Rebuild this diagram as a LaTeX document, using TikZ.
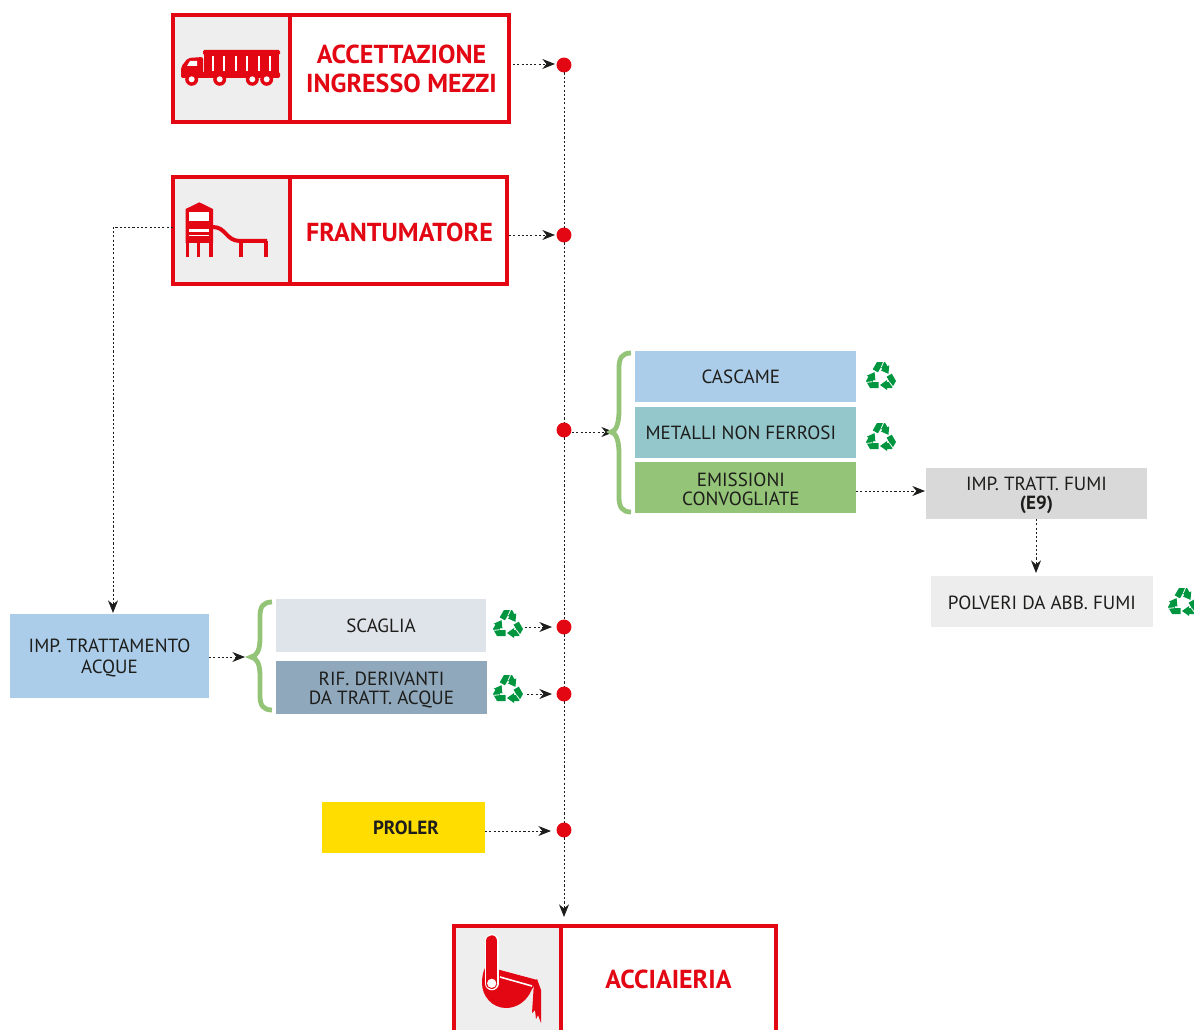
\documentclass[tikz,border=0pt]{standalone}
\usepackage{fontspec}
\setmainfont{PT Sans}
\usetikzlibrary{arrows.meta}
\definecolor{stepred}{HTML}{E30613}
\definecolor{iconbg}{HTML}{EEEEEE}
\definecolor{bluebox}{HTML}{ABCDE9}
\definecolor{tealbox}{HTML}{93C7CC}
\definecolor{greenbox}{HTML}{94C477}
\definecolor{fumebox}{HTML}{D9D9D9}
\definecolor{dustbox}{HTML}{EDEDED}
\definecolor{scalebox}{HTML}{DFE4EB}
\definecolor{wastebox}{HTML}{90A8BC}
\definecolor{prolerbox}{HTML}{FFDD00}
\definecolor{recyclegreen}{HTML}{009640}
\definecolor{textdark}{HTML}{1D1D1B}
\newcommand{\lowerline}{\rule{0pt}{13pt}}
\tikzset{
	cellsize/.style 2 args={minimum width=#1*.75pt, minimum height=#2*.75pt, inner sep=0pt, outer sep=0pt},
	iconcell/.style={draw=stepred, line width=2.5pt, fill=iconbg},
	titlecell/.style={draw=stepred, line width=2.5pt, fill=white, text=stepred, align=center, font=\fontsize{19.5pt}{21.7pt}\selectfont\bfseries},
	infobox/.style={text=textdark, align=center, font=\fontsize{14.3pt}{13.8pt}\selectfont},
	flowdot/.style={circle, fill=stepred, minimum size=11.2pt, inner sep=0pt, outer sep=0pt},
	flowline/.style={draw=textdark, line width=.7pt, dash pattern=on 1.6pt off 1.6pt},
	flowarrow/.style={flowline, -{Stealth[length=9.5pt, width=7.5pt]}},
	brace/.style={draw=greenbox, line width=3.6pt, line cap=butt},
	pics/recycle/.style={code={
		\foreach \ang in {0, 120, 240} {
			\fill[recyclegreen, rotate=\ang] (-8.28, -7.67) -- (-4.05, -15) -- (4.05, -15) -- (6.53, -10.7) -- (8.26, -11.7) -- (7.43, -3.13) -- (-.4, -6.7) -- (1.33, -7.7) -- (0, -10) -- (-3.08, -4.67) -- cycle;
			\draw[white, line width=.6pt, rotate=\ang] (.3, -10) -- (2.5, -15);
		}
	}},
}
\begin{document}
\begin{tikzpicture}[x=.75pt, y=-.75pt]
	\useasboundingbox (0, 0) rectangle (1194, 1030);
	\clip (0, 0) rectangle (1194, 1030);

	\node[iconcell, cellsize={117}{107}] (accIcon) at (231.5, 68.5) {};
	\node[titlecell, cellsize={219}{107}] (accTitle) at (399.5, 68.5) {\hspace*{3pt}ACCETTAZIONE\\\hspace*{3pt}INGRESSO MEZZI};
	\node[iconcell, cellsize={117}{107}] (franIcon) at (231.5, 230.5) {};
	\node[titlecell, cellsize={217}{107}] (franTitle) at (398.5, 230.5) {\rule{0pt}{17pt}\hspace*{1.5pt}FRANTUMATORE};
	\node[iconcell, cellsize={107}{107}] (steelIcon) at (507.5, 979.5) {};
	\node[titlecell, cellsize={215}{107}] (steelTitle) at (668.5, 979.5) {ACCIAIERIA};

	\node[infobox, fill=bluebox, cellsize={221}{51}] (cascame) at (745.5, 376.5) {\rule{0pt}{11pt}CASCAME\kern7pt};
	\node[infobox, fill=tealbox, cellsize={221}{51}] (metalli) at (745.5, 432.5) {\rule{0pt}{11pt}METALLI NON FERROSI\kern7pt};
	\node[infobox, fill=greenbox, cellsize={221}{51}] (emissioni) at (745.5, 487.5) {\lowerline EMISSIONI\kern7pt\\CONVOGLIATE\kern7pt};
	\node[infobox, fill=fumebox, cellsize={221}{51}] (fumi) at (1036.5, 493.5) {\lowerline IMP. TRATT. FUMI\\\textbf{(E9)}};
	\node[infobox, fill=dustbox, cellsize={222}{51}] (polveri) at (1042, 601.5) {\rule{0pt}{12pt}POLVERI DA ABB. FUMI};
	\node[infobox, fill=bluebox, cellsize={199}{84}] (acque) at (109.5, 656) {\lowerline IMP. TRATTAMENTO\\[2pt]ACQUE};
	\node[infobox, fill=scalebox, cellsize={210}{53}] (scaglia) at (381, 625.5) {SCAGLIA};
	\node[infobox, fill=wastebox, cellsize={211}{53}] (derivanti) at (381.5, 687.5) {\rule{0pt}{14pt}RIF. DERIVANTI\\DA TRATT. ACQUE};
	\node[infobox, fill=prolerbox, cellsize={163}{51}] (proler) at (403.5, 827.5) {\hspace*{3.7pt}\textbf{PROLER}};

	\pic at (881, 377) {recycle};
	\pic at (881, 438) {recycle};
	\pic at (1183, 603) {recycle};
	\pic at (508, 625) {recycle};
	\pic at (508, 690) {recycle};

	\node[flowdot] (dotA) at (564, 65) {};
	\node[flowdot] (dotB) at (564, 235) {};
	\node[flowdot] (dotC) at (564, 430) {};
	\node[flowdot] (dotD) at (564, 627) {};
	\node[flowdot] (dotE) at (564, 694) {};
	\node[flowdot] (dotF) at (564, 830) {};

	\coordinate (accOut) at (513, 64);
	\coordinate (accIn) at (555, 64);
	\coordinate (franOut) at (509, 235);
	\coordinate (franIn) at (555, 235);
	\coordinate (franLeft) at (173, 227);
	\coordinate (franCorner) at (113, 227);
	\coordinate (acqueIn) at (113, 613);
	\coordinate (dotCOut) at (572, 432);
	\coordinate (braceTipA) at (614, 432);
	\coordinate (acqueOut) at (209, 657);
	\coordinate (braceTipB) at (245, 657);
	\coordinate (steelIn) at (564, 917);
	\coordinate (fumiIn) at (925, 491);
	\coordinate (emisOut) at (856, 491);
	\coordinate (fumiOut) at (1036, 519);
	\coordinate (dustIn) at (1036, 573);
	\coordinate (recDOut) at (525, 627);
	\coordinate (dotDIn) at (552, 627);
	\coordinate (recEOut) at (527, 694);
	\coordinate (dotEIn) at (552, 694);
	\coordinate (prolerOut) at (485, 831);
	\coordinate (dotFIn) at (551, 831);

	\draw[flowarrow] (accOut) -- (accIn);
	\draw[flowarrow] (franOut) -- (franIn);
	\draw[flowarrow] (franLeft) -- (franCorner) -- (acqueIn);
	\draw[flowarrow] (dotCOut) -- (braceTipA);
	\draw[flowarrow] (acqueOut) -- (braceTipB);
	\draw[flowarrow] (emisOut) -- (fumiIn);
	\draw[flowarrow] (fumiOut) -- (dustIn);
	\draw[flowarrow] (recDOut) -- (dotDIn);
	\draw[flowarrow] (recEOut) -- (dotEIn);
	\draw[flowarrow] (prolerOut) -- (dotFIn);
	\draw[flowline] (dotA) -- (dotB);
	\draw[flowline] (dotB) -- (dotC);
	\draw[flowline] (dotC) -- (dotD);
	\draw[flowline] (dotD) -- (dotE);
	\draw[flowline] (dotE) -- (dotF);
	\draw[flowarrow] (dotF) -- (steelIn);

	\draw[brace] (631, 353) .. controls (622, 353) and (619, 358) .. (619, 368) -- (619, 410) .. controls (619, 424) and (616, 431) .. (611, 432) .. controls (616, 433) and (619, 440) .. (619, 454) -- (619, 497) .. controls (619, 507) and (622, 512) .. (631, 512);
	\draw[brace] (272, 602) .. controls (263, 602) and (260, 607) .. (260, 616) -- (260, 638) .. controls (260, 650) and (257, 656) .. (251, 657) .. controls (257, 658) and (260, 664) .. (260, 676) -- (260, 696) .. controls (260, 705) and (263, 710) .. (272, 710);

	% truck
	\fill[stepred, rounded corners=1pt] (203, 50) rectangle (280, 55);
	\fill[stepred] (204, 52) rectangle (279, 73);
	\fill[stepred, rounded corners=1.5pt] (181, 72) -- (181, 78) -- (280, 78) -- (280, 72) -- cycle;
	\fill[stepred, rounded corners=1.5pt] (181, 74) -- (181, 67) -- (188, 58) -- (203, 57) -- (203, 74) -- cycle;
	\fill[white] (187, 66) -- (190, 61) -- (197, 61) -- (197, 66) -- cycle;
	\foreach \sx in {212.7, 224.3, 235.7, 247.3, 259, 270}
		\fill[white] (\sx-1, 56) rectangle (\sx+1, 71);
	\foreach \wx in {191.7, 219.7, 252.3, 266.7} {
		\fill[stepred] (\wx, 79.3) circle[radius=6.5];
		\fill[white] (\wx, 79.3) circle[radius=3];
	}

	% slide
	\fill[stepred] (185.7, 209) -- (199.3, 202.3) -- (213, 209) -- (213, 243) -- (185.7, 243) -- cycle;
	\fill[white] (189.3, 211.7) rectangle (209, 221);
	\fill[white] (189.3, 229.3) rectangle (209, 232);
	\fill[white] (189.3, 235.3) rectangle (209, 236);
	\fill[stepred] (185.7, 243) rectangle (189.3, 257);
	\fill[stepred] (196.7, 243) rectangle (200.3, 257);
	\fill[stepred] (209, 243) rectangle (213, 257);
	\draw[stepred, line width=3pt] (213, 227) .. controls (226, 227) and (226, 241) .. (240, 241) -- (267, 241);
	\fill[stepred] (239, 241) rectangle (242.5, 257);
	\fill[stepred] (264, 241) rectangle (268, 257);

	% ladle
	\fill[stepred] (500, 970) -- (537.3, 980) -- (531.5, 990) .. controls (527, 1001) and (517, 1008) .. (506, 1008) .. controls (492, 1008) and (482, 996) .. (482, 983) .. controls (482, 977) and (483, 972) .. (485, 968) -- cycle;
	\draw[white, line width=1.2pt] (500, 977) -- (532, 986);
	\draw[white, line width=10.5pt, line cap=round] (491.7, 941) -- (491.7, 983.3);
	\draw[stepred, line width=8.6pt, line cap=round] (491.7, 941) -- (491.7, 983.3);
	\fill[white] (491.7, 983.3) circle[radius=4.6];
	\fill[stepred] (534, 982) -- (537, 979) -- (541, 990) -- (541, 1023) -- (538, 1015) -- (536, 1019) -- (535, 1010) -- (532, 1013) -- cycle;
\end{tikzpicture}
\end{document}
